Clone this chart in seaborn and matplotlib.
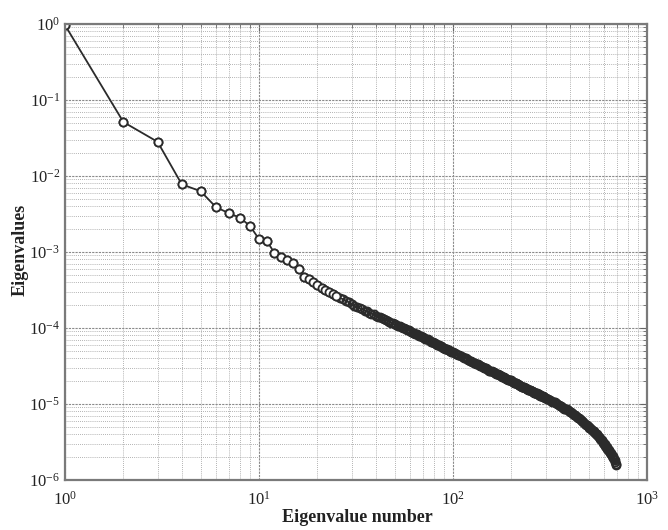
# Eigenvalue spectrum, log-log, MATLAB-style look
import numpy as np
import pandas as pd
import seaborn as sns
import matplotlib.pyplot as plt

# eigenvalue index (every point up to 100, then thinner where markers merge)
eig_number = (list(range(1, 101)) + list(range(102, 301, 2))
              + list(range(305, 691, 5)) + [692])

# log10 of eigenvalue
log10_eig = [
    -0.015, -1.29, -1.55, -2.11, -2.20, -2.41, -2.49, -2.55, -2.66, -2.83,
    -2.86, -3.01, -3.07, -3.10, -3.14, -3.22, -3.33, -3.36, -3.40, -3.43,
    -3.47, -3.50, -3.53, -3.55, -3.58, -3.60, -3.62, -3.64, -3.66, -3.69,
    -3.71, -3.72, -3.74, -3.75, -3.77, -3.78, -3.80, -3.81, -3.82, -3.84,
    -3.85, -3.86, -3.87, -3.88, -3.89, -3.91, -3.92, -3.93, -3.94, -3.95,
    -3.96, -3.97, -3.98, -3.99, -4.00, -4.00, -4.01, -4.02, -4.03, -4.04,
    # 61..100
    -4.05, -4.06, -4.07, -4.08, -4.08, -4.09, -4.10, -4.11, -4.12, -4.12,
    -4.13, -4.14, -4.15, -4.15, -4.16, -4.17, -4.18, -4.18, -4.19, -4.20,
    -4.20, -4.21, -4.22, -4.22, -4.23, -4.24, -4.24, -4.25, -4.26, -4.26,
    -4.27, -4.27, -4.28, -4.29, -4.29, -4.30, -4.30, -4.31, -4.31, -4.32,
    # 102..200 step 2
    -4.33, -4.34, -4.35, -4.36, -4.37, -4.38, -4.39, -4.40, -4.41, -4.42,
    -4.43, -4.44, -4.45, -4.46, -4.46, -4.47, -4.48, -4.49, -4.50, -4.50,
    -4.51, -4.52, -4.53, -4.53, -4.54, -4.55, -4.56, -4.56, -4.57, -4.58,
    -4.58, -4.59, -4.60, -4.60, -4.61, -4.62, -4.62, -4.63, -4.64, -4.64,
    -4.65, -4.65, -4.66, -4.67, -4.67, -4.68, -4.68, -4.69, -4.69, -4.70,
    # 202..300 step 2
    -4.70, -4.71, -4.72, -4.72, -4.73, -4.73, -4.74, -4.74, -4.75, -4.75,
    -4.76, -4.76, -4.77, -4.77, -4.78, -4.78, -4.79, -4.79, -4.79, -4.80,
    -4.80, -4.81, -4.81, -4.82, -4.82, -4.83, -4.83, -4.83, -4.84, -4.84,
    -4.85, -4.85, -4.85, -4.86, -4.86, -4.87, -4.87, -4.87, -4.88, -4.88,
    -4.89, -4.89, -4.89, -4.90, -4.90, -4.91, -4.91, -4.91, -4.92, -4.92,
    # 305..400 step 5
    -4.93, -4.94, -4.95, -4.96, -4.97, -4.98, -4.98, -4.99, -5.00, -5.01,
    -5.02, -5.03, -5.04, -5.05, -5.06, -5.06, -5.07, -5.08, -5.09, -5.10,
    # 405..500
    -5.11, -5.12, -5.13, -5.14, -5.15, -5.16, -5.17, -5.18, -5.19, -5.20,
    -5.21, -5.22, -5.23, -5.24, -5.25, -5.26, -5.27, -5.28, -5.29, -5.30,
    # 505..600
    -5.31, -5.32, -5.33, -5.34, -5.35, -5.36, -5.37, -5.38, -5.39, -5.40,
    -5.41, -5.42, -5.44, -5.45, -5.46, -5.47, -5.48, -5.50, -5.51, -5.52,
    # 605..690, 692
    -5.53, -5.55, -5.56, -5.57, -5.59, -5.60, -5.61, -5.62, -5.64, -5.65,
    -5.66, -5.68, -5.69, -5.71, -5.72, -5.74, -5.76, -5.79, -5.80,
]

df = pd.DataFrame({'n': eig_number, 'eig': np.power(10.0, log10_eig)})

sns.set_style('white')
plt.rcParams['font.family'] = ['Liberation Serif', 'DejaVu Serif']
plt.rcParams['mathtext.fontset'] = 'stix'

fig = plt.figure(figsize=(6.68, 5.30), dpi=100)
ax = fig.add_axes([65 / 668, 1 - 480 / 530, 582 / 668, 456 / 530])

ink = '#2b2b2b'
# line + hollow circles; where they pile up the outlines merge into a solid band
sns.lineplot(data=df, x='n', y='eig', ax=ax, color=ink, linewidth=1.3,
             marker='o', markersize=5.8, markerfacecolor='none',
             markeredgecolor=ink, markeredgewidth=1.3)
# the well separated first points look white inside
sns.lineplot(data=df[df['n'] <= 25], x='n', y='eig', ax=ax, color=ink, linestyle='none',
             marker='o', markersize=5.8, markerfacecolor='white',
             markeredgecolor=ink, markeredgewidth=1.3)

ax.set_xscale('log')
ax.set_yscale('log')
ax.set_xlim(1, 1000)
ax.set_ylim(1e-6, 1)

# grid: major dashed, minor dotted
ax.grid(True, which='major', color='#8a8a8a', linestyle=(0, (2, 1)), linewidth=0.8)
ax.grid(True, which='minor', color='#9a9a9a', linestyle=(0, (1, 1.5)), linewidth=0.6)
ax.set_axisbelow(True)

ax.tick_params(which='both', direction='in', top=True, right=True, colors='#666666',
               labelcolor='#222222', labelsize=12)
ax.tick_params(which='major', length=5)
ax.tick_params(which='minor', length=3)
ax.xaxis.set_tick_params(pad=8)

for sp in ax.spines.values():
    sp.set_color('#7a7a7a')
    sp.set_linewidth(1.6)

ax.set_xlabel('Eigenvalue number', fontsize=13, fontweight='bold', color='#222222')
ax.set_ylabel('Eigenvalues', fontsize=13, fontweight='bold', color='#222222')
ax.xaxis.set_label_coords(0.502, -0.064)
ax.yaxis.set_label_coords(-0.062, 0.504)

fig.savefig('out.png', dpi=100, facecolor='white')
